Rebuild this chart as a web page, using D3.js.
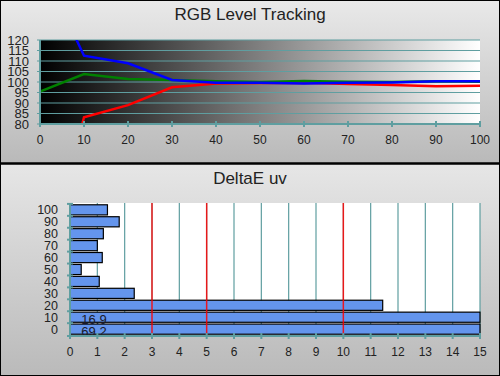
<!DOCTYPE html>
<html>
<head>
<meta charset="utf-8">
<script src="https://cdn.jsdelivr.net/npm/d3@7"></script>
<style>
  body { margin: 0; background: #fff; }
  svg { display: block; font-family: "Liberation Sans", Arial, sans-serif; }
</style>
</head>
<body>
<script>
// RGB level tracking data (stimulus level in %)
var levels = [0, 10, 20, 30, 40, 50, 60, 70, 80, 90, 100];
var redVals = [0, 83.2, 89, 97.5, 99.3, 99.5, 99.6, 99.0, 98.6, 98.0, 98.2];
var greenVals = [95.4, 103.8, 101.4, 101.0, 100.3, 100.0, 100.5, 100.1, 100.0, 100.3, 100.1];
var blueVals = [157, 112.5, 108.9, 101.0, 99.6, 99.6, 99.3, 99.6, 99.8, 100.3, 100.4];
var yTicksTop = [80, 85, 90, 95, 100, 105, 110, 115, 120];

// DeltaE uv per level
var deltaCats = [100, 90, 80, 70, 60, 50, 40, 30, 20, 10, 0];
var deltaVals = [1.37, 1.80, 1.22, 1.00, 1.18, 0.41, 1.07, 2.35, 11.44, 16.9, 69.2];
var xTicksBottom = d3.range(0, 16);
var redMarks = [3, 5, 10];

var W = 500, H = 376;
var teal = "#5f9ea0";

var svg = d3.select("body").append("svg")
    .attr("width", W)
    .attr("height", H);

var defs = svg.append("defs");

var g1 = defs.append("linearGradient").attr("id", "panelTop")
    .attr("x1", 0).attr("y1", 0).attr("x2", 0).attr("y2", 1);
g1.append("stop").attr("offset", "0%").attr("stop-color", "#e9e9e9");
g1.append("stop").attr("offset", "100%").attr("stop-color", "#b9b9b9");

var g2 = defs.append("linearGradient").attr("id", "panelBot")
    .attr("x1", 0).attr("y1", 0).attr("x2", 0).attr("y2", 1);
g2.append("stop").attr("offset", "0%").attr("stop-color", "#e6e6e6");
g2.append("stop").attr("offset", "100%").attr("stop-color", "#bababa");

var g3 = defs.append("linearGradient").attr("id", "plotGrad")
    .attr("x1", 0).attr("y1", 0).attr("x2", 1).attr("y2", 0);
g3.append("stop").attr("offset", "0%").attr("stop-color", "#000");
g3.append("stop").attr("offset", "100%").attr("stop-color", "#fff");

// panels
svg.append("rect").attr("x", 0.5).attr("y", 0.5).attr("width", W - 1).attr("height", 162.5)
    .attr("fill", "url(#panelTop)").attr("stroke", "#000");
svg.append("rect").attr("x", 0.5).attr("y", 164).attr("width", W - 1).attr("height", H - 164.5)
    .attr("fill", "url(#panelBot)").attr("stroke", "#000");
svg.append("line").attr("x1", 0).attr("x2", W).attr("y1", 163.5).attr("y2", 163.5)
    .attr("stroke", "#000").attr("stroke-width", 2);

// ---------- top chart ----------
var tp = {left: 40, right: 480, top: 40, bottom: 124};

var x1 = d3.scaleLinear().domain([0, 100]).range([tp.left, tp.right]);
var y1 = d3.scaleLinear().domain([80, 120]).range([tp.bottom, tp.top]);

svg.append("text")
    .attr("x", W / 2).attr("y", 20)
    .attr("text-anchor", "middle")
    .attr("font-size", "17px")
    .attr("fill", "#222")
    .text("RGB Level Tracking");

svg.append("rect")
    .attr("x", tp.left).attr("y", tp.top)
    .attr("width", tp.right - tp.left).attr("height", tp.bottom - tp.top)
    .attr("fill", "url(#plotGrad)");

defs.append("clipPath").attr("id", "clipTop")
    .append("rect")
    .attr("x", tp.left).attr("y", tp.top)
    .attr("width", tp.right - tp.left).attr("height", tp.bottom - tp.top);

svg.append("g").selectAll("line")
    .data(yTicksTop)
    .enter().append("line")
    .attr("x1", tp.left - 3).attr("x2", tp.right)
    .attr("y1", d => y1(d)).attr("y2", d => y1(d))
    .attr("stroke", teal).attr("stroke-width", 1.2);

svg.append("g").selectAll("text")
    .data(yTicksTop)
    .enter().append("text")
    .attr("x", 29).attr("y", d => y1(d) + 4.5)
    .attr("text-anchor", "end")
    .attr("font-size", "13px")
    .attr("fill", "#222")
    .text(d => d);

var line = d3.line()
    .x((d, i) => x1(levels[i]))
    .y(d => y1(d));

var series = [[redVals, "#ff0000"], [greenVals, "#008000"], [blueVals, "#0000ff"]];
svg.append("g").attr("clip-path", "url(#clipTop)")
    .selectAll("path")
    .data(series)
    .enter().append("path")
    .attr("d", d => line(d[0]))
    .attr("fill", "none")
    .attr("stroke", d => d[1])
    .attr("stroke-width", 2.5);

// axes
svg.append("line").attr("x1", tp.left).attr("x2", tp.right)
    .attr("y1", tp.bottom).attr("y2", tp.bottom)
    .attr("stroke", teal).attr("stroke-width", 2);
svg.append("line").attr("x1", tp.left).attr("x2", tp.left)
    .attr("y1", tp.top).attr("y2", tp.bottom)
    .attr("stroke", teal).attr("stroke-width", 2);

svg.append("g").selectAll("line")
    .data(levels)
    .enter().append("line")
    .attr("x1", d => x1(d)).attr("x2", d => x1(d))
    .attr("y1", tp.bottom - 3).attr("y2", tp.bottom + 3)
    .attr("stroke", teal).attr("stroke-width", 2);

svg.append("g").selectAll("text")
    .data(levels)
    .enter().append("text")
    .attr("x", d => x1(d)).attr("y", 144)
    .attr("text-anchor", "middle")
    .attr("font-size", "12px")
    .attr("fill", "#222")
    .text(d => d);

// ---------- bottom chart ----------
var bt = {left: 70, right: 480, top: 203, bottom: 336};

var x2 = d3.scaleLinear().domain([0, 15]).range([bt.left, bt.right]);
var y2 = d3.scaleBand().domain(deltaCats).range([bt.top, bt.bottom]).padding(0.15);

svg.append("text")
    .attr("x", W / 2).attr("y", 184)
    .attr("text-anchor", "middle")
    .attr("font-size", "17px")
    .attr("fill", "#222")
    .text("DeltaE uv");

svg.append("rect")
    .attr("x", bt.left).attr("y", bt.top)
    .attr("width", bt.right - bt.left).attr("height", bt.bottom - bt.top)
    .attr("fill", "#fff");

svg.append("g").selectAll("line")
    .data(xTicksBottom)
    .enter().append("line")
    .attr("x1", d => x2(d)).attr("x2", d => x2(d))
    .attr("y1", bt.top).attr("y2", bt.bottom)
    .attr("stroke", teal).attr("stroke-width", 1.2);

svg.append("g").selectAll("rect")
    .data(deltaVals)
    .enter().append("rect")
    .attr("x", x2(0))
    .attr("y", (d, i) => y2(deltaCats[i]))
    .attr("width", d => x2(Math.min(d, 15)) - x2(0))
    .attr("height", y2.bandwidth())
    .attr("fill", "#6495ed")
    .attr("stroke", "#000")
    .attr("stroke-width", 1.2);

svg.append("g").selectAll("line")
    .data(redMarks)
    .enter().append("line")
    .attr("x1", d => x2(d)).attr("x2", d => x2(d))
    .attr("y1", bt.top).attr("y2", bt.bottom)
    .attr("stroke", "#ff0000").attr("stroke-opacity", 0.85).attr("stroke-width", 1.5);

svg.append("g").selectAll("text")
    .data(deltaVals.map((v, i) => [v, deltaCats[i]]).filter(d => d[0] > 15))
    .enter().append("text")
    .attr("x", x2(0) + 24)
    .attr("y", d => y2(d[1]) + y2.bandwidth() / 2 + 7)
    .attr("text-anchor", "middle")
    .attr("font-size", "13px")
    .attr("fill", "#1a1a2a")
    .text(d => d[0].toFixed(1));

// axes
svg.append("line").attr("x1", bt.left).attr("x2", bt.right)
    .attr("y1", bt.bottom).attr("y2", bt.bottom)
    .attr("stroke", teal).attr("stroke-width", 2);
svg.append("line").attr("x1", bt.left).attr("x2", bt.left)
    .attr("y1", bt.top).attr("y2", bt.bottom)
    .attr("stroke", teal).attr("stroke-width", 2);

svg.append("g").selectAll("line")
    .data(xTicksBottom)
    .enter().append("line")
    .attr("x1", d => x2(d)).attr("x2", d => x2(d))
    .attr("y1", bt.bottom - 3).attr("y2", bt.bottom + 3)
    .attr("stroke", teal).attr("stroke-width", 2);

var bandEdges = deltaCats.map(c => y2(c) - y2.step() * y2.paddingInner() / 2).concat([bt.bottom]);
svg.append("g").selectAll("line")
    .data(bandEdges)
    .enter().append("line")
    .attr("x1", bt.left - 3).attr("x2", bt.left + 3)
    .attr("y1", d => d).attr("y2", d => d)
    .attr("stroke", teal).attr("stroke-width", 2);

svg.append("g").selectAll("text")
    .data(deltaCats)
    .enter().append("text")
    .attr("x", 58).attr("y", d => y2(d) + y2.bandwidth() / 2 + 4.5)
    .attr("text-anchor", "end")
    .attr("font-size", "12.5px")
    .attr("fill", "#222")
    .text(d => d);

svg.append("g").selectAll("text")
    .data(xTicksBottom)
    .enter().append("text")
    .attr("x", d => x2(d)).attr("y", 356)
    .attr("text-anchor", "middle")
    .attr("font-size", "12px")
    .attr("fill", "#222")
    .text(d => d);
</script>
</body>
</html>
